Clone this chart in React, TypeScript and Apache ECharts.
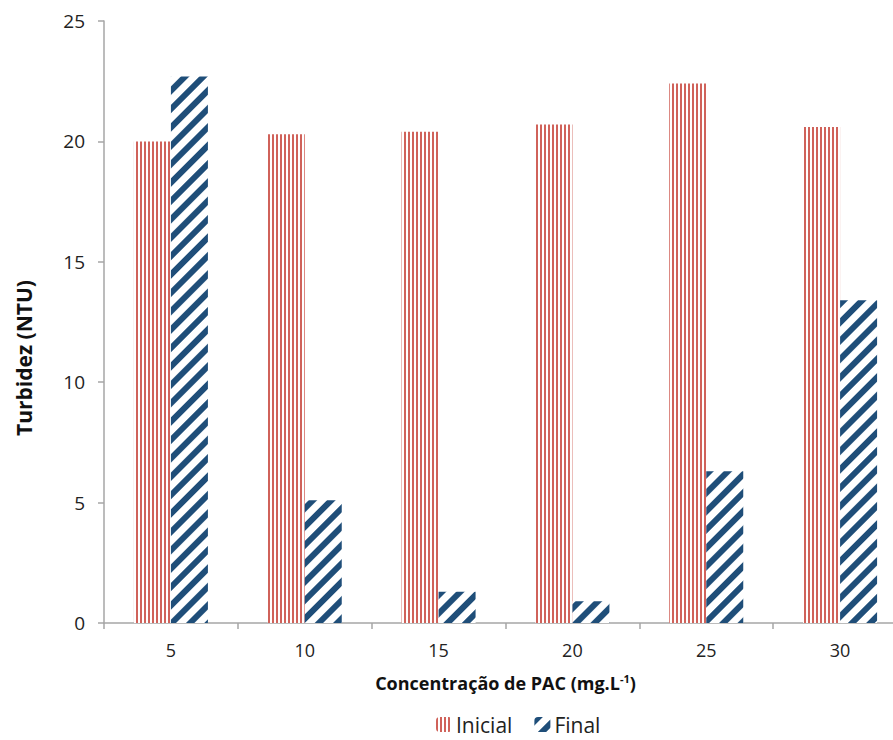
import React, { useEffect, useRef } from "react";
import * as echarts from "echarts";

// PAC dosage (mg/L) on the category axis
const concentrations = ["5", "10", "15", "20", "25", "30"];
// Turbidity before treatment (NTU)
const inicial = [20.0, 20.3, 20.4, 20.7, 22.4, 20.6];
// Turbidity after treatment (NTU)
const final = [22.7, 5.1, 1.3, 0.9, 6.3, 13.4];
// Value axis ticks
const yTicks = [0, 5, 10, 15, 20, 25];

const RED = "#d0625a";
const BLUE = "#1f4e79";
const FONT = "'Open Sans', sans-serif";

export default function App() {
  const ref = useRef<HTMLDivElement>(null);

  useEffect(() => {
    if (!ref.current) return;
    const chart = echarts.init(ref.current, undefined, { renderer: "svg" });

    const axisLine = { show: true, lineStyle: { color: "#a6a6a6", width: 1.5 } };
    const axisTick = { show: true, length: 6, lineStyle: { color: "#a6a6a6", width: 1.5 } };

    chart.setOption({
      animation: false,
      backgroundColor: "#ffffff",
      textStyle: { fontFamily: FONT },
      grid: {
        left: 104,
        top: 21,
        right: 13,
        bottom: 117,
        containLabel: false,
        outerBoundsMode: "none",
      },
      legend: {
        left: 436,
        top: 714,
        padding: 0,
        itemWidth: 16,
        itemHeight: 15,
        itemGap: 22,
        textStyle: {
          fontSize: 21,
          lineHeight: 21,
          color: "#222",
          fontFamily: FONT,
          padding: [0, 0, 0, -1],
        },
        data: ["Inicial", "Final"],
      },
      xAxis: {
        type: "category",
        data: concentrations,
        axisLine,
        axisTick,
        axisLabel: { fontSize: 18, color: "#222", margin: 18, fontFamily: FONT },
        name: "Concentração de PAC (mg.L{sup|-1})",
        nameLocation: "middle",
        nameGap: 50,
        nameTextStyle: {
          fontSize: 18,
          fontWeight: "bold",
          color: "#111",
          fontFamily: FONT,
          rich: {
            sup: {
              fontSize: 11,
              fontWeight: "bold",
              color: "#111",
              fontFamily: FONT,
              verticalAlign: "top",
              padding: [0, 0, 8, 0],
            },
          },
        },
      },
      yAxis: {
        type: "value",
        min: yTicks[0],
        max: yTicks[yTicks.length - 1],
        interval: 5,
        axisLine,
        axisTick,
        splitLine: { show: false },
        axisLabel: { fontSize: 19, color: "#222", margin: 19, fontFamily: FONT },
        name: "Turbidez (NTU)",
        nameLocation: "middle",
        nameGap: 70,
        nameTextStyle: {
          fontSize: 21,
          fontWeight: "bold",
          color: "#111",
          fontFamily: FONT,
          padding: [0, 72, 0, 0],
        },
      },
      series: [
        {
          name: "Inicial",
          type: "bar",
          data: inicial,
          barWidth: 37,
          barGap: "0%",
          itemStyle: {
            color: "#ffffff",
            decal: {
              symbol: "rect",
              symbolSize: 1,
              color: RED,
              dashArrayX: [2, 2],
              dashArrayY: [1, 0],
              rotation: 0,
            },
          },
        },
        {
          name: "Final",
          type: "bar",
          data: final,
          barWidth: 37,
          barGap: "0%",
          itemStyle: {
            color: "#ffffff",
            decal: {
              symbol: "rect",
              symbolSize: 1,
              color: BLUE,
              dashArrayX: [1, 0],
              dashArrayY: [6, 7],
              rotation: -Math.PI / 4,
            },
          },
        },
      ],
    });

    return () => chart.dispose();
  }, []);

  return (
    <div
      style={{
        position: "absolute",
        left: 0,
        top: 0,
        width: 893,
        height: 740,
        overflow: "hidden",
        background: "#fff",
      }}
    >
      <div ref={ref} style={{ width: 920, height: 740 }} />
    </div>
  );
}
